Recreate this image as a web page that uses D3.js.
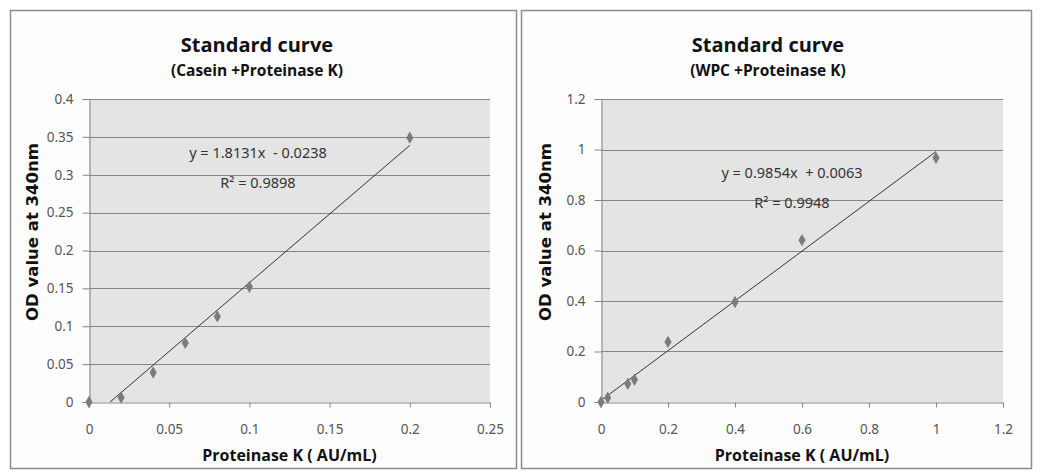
<!DOCTYPE html>
<html><head><meta charset="utf-8">
<script src="https://cdn.jsdelivr.net/npm/d3@7"></script>
<style>
html,body{margin:0;padding:0;background:#fff;}
svg{display:block;}
</style></head>
<body>
<svg id="c" width="1040" height="475"></svg>
<script>
// ---- data ----
const caseinX = [0, 0.02, 0.04, 0.06, 0.08, 0.1, 0.2];
const caseinY = [0, 0.006, 0.039, 0.078, 0.113, 0.152, 0.349];
const caseinSlope = 1.8131, caseinIntercept = -0.0238;
const caseinXTicks = [0, 0.05, 0.1, 0.15, 0.2, 0.25];
const caseinYTicks = [0, 0.05, 0.1, 0.15, 0.2, 0.25, 0.3, 0.35, 0.4];
const caseinTitle = "Standard curve";
const caseinSubtitle = "(Casein +Proteinase K)";
const caseinEq = "y = 1.8131x  - 0.0238";
const caseinR2 = "R² = 0.9898";

const wpcX = [0, 0.02, 0.08, 0.1, 0.2, 0.4, 0.6, 1.0];
const wpcY = [0, 0.017, 0.072, 0.088, 0.238, 0.396, 0.641, 0.967];
const wpcSlope = 0.9854, wpcIntercept = 0.0063;
const wpcXTicks = [0, 0.2, 0.4, 0.6, 0.8, 1, 1.2];
const wpcYTicks = [0, 0.2, 0.4, 0.6, 0.8, 1, 1.2];
const wpcTitle = "Standard curve";
const wpcSubtitle = "(WPC +Proteinase K)";
const wpcEq = "y = 0.9854x  + 0.0063";
const wpcR2 = "R² = 0.9948";

const xTitle = "Proteinase K ( AU/mL)";
const yTitle = "OD value at 340nm";

const svg = d3.select("#c");

function drawChart(o){
  const g = svg.append("g");
  // panel border
  g.append("rect").attr("x", o.bx + 0.5).attr("y", 10.5).attr("width", o.bw).attr("height", 458)
    .attr("fill", "#fdfdfd").attr("stroke", "#8c8c8c").attr("stroke-width", 1.5);
  const x = d3.scaleLinear().domain(o.xDomain).range([o.px0, o.px1]);
  const y = d3.scaleLinear().domain(o.yDomain).range([402, 99]);
  // plot background
  g.append("rect").attr("x", o.px0).attr("y", 99).attr("width", o.px1 - o.px0).attr("height", 303)
    .attr("fill", "#e4e4e4");
  // gridlines
  g.append("g").selectAll("line").data(o.yTicks.filter(d => d > 0)).join("line")
    .attr("x1", o.px0).attr("x2", o.px1).attr("y1", d => Math.round(y(d)) + 0.5).attr("y2", d => Math.round(y(d)) + 0.5)
    .attr("stroke", "#858585").attr("stroke-width", 1);
  const fmt = d => String(+d.toFixed(2));
  // y axis
  const ya = g.append("g").attr("transform", `translate(${o.px0 + 0.5},0)`)
    .call(d3.axisLeft(y).tickValues(o.yTicks).tickFormat(fmt).tickSize(7).tickPadding(9));
  ya.select(".domain").attr("stroke", "#858585");
  ya.selectAll(".tick line").attr("stroke", "#858585");
  ya.selectAll("text").attr("fill", "#555").style("font-family", "'Noto Sans', sans-serif").style("font-size", "13.5px");
  // x axis
  const xa = g.append("g").attr("transform", `translate(0,${402.5})`)
    .call(d3.axisBottom(x).tickValues(o.xTicks).tickFormat(fmt).tickSize(5).tickPadding(17));
  xa.select(".domain").attr("stroke", "#858585");
  xa.selectAll(".tick line").attr("stroke", "#858585");
  xa.selectAll("text").attr("fill", "#555").style("font-family", "'Noto Sans', sans-serif").style("font-size", "13.5px");
  // trendline
  const xs = Math.max(o.xData[0], -o.b / o.m);
  const xe = d3.max(o.xData);
  g.append("line").attr("x1", x(xs)).attr("y1", y(o.m * xs + o.b)).attr("x2", x(xe)).attr("y2", y(o.m * xe + o.b))
    .attr("stroke", "#333").attr("stroke-width", 1);
  // points
  g.append("g").selectAll("path").data(o.xData.map((d, i) => [d, o.yData[i]])).join("path")
    .attr("d", d3.symbol(d3.symbolDiamond, 44))
    .attr("transform", d => `translate(${x(d[0])},${y(d[1])})`)
    .attr("fill", "#7b7b7b");
  // titles
  g.append("text").attr("x", o.tx).attr("y", 52).attr("text-anchor", "middle")
    .style("font-family", "'Open Sans', sans-serif").style("font-weight", "bold").style("font-size", "20px")
    .attr("fill", "#111").text(o.title);
  g.append("text").attr("x", o.tx).attr("y", 76).attr("text-anchor", "middle")
    .style("font-family", "'Open Sans', sans-serif").style("font-weight", "bold").style("font-size", "15.5px")
    .attr("fill", "#111").text(o.subtitle);
  g.append("text").attr("x", o.ex).attr("y", o.ey).attr("text-anchor", "middle")
    .style("font-family", "'Noto Sans', sans-serif").style("font-size", "14.5px").attr("fill", "#333")
    .attr("xml:space", "preserve").style("white-space", "pre").text(o.eq);
  g.append("text").attr("x", o.ex).attr("y", o.ey + 30).attr("text-anchor", "middle")
    .style("font-family", "'Noto Sans', sans-serif").style("font-size", "14.5px").attr("fill", "#333")
    .text(o.r2);
  g.append("text").attr("x", (o.px0 + o.px1) / 2).attr("y", 461).attr("text-anchor", "middle")
    .style("font-family", "'Open Sans', sans-serif").style("font-weight", "bold").style("font-size", "16px")
    .attr("fill", "#111").text(xTitle);
  g.append("text").attr("transform", `translate(${o.ytx},232) rotate(-90)`).attr("text-anchor", "middle")
    .style("font-family", "'DejaVu Sans', sans-serif").style("font-weight", "bold").style("font-size", "16.5px")
    .attr("fill", "#111").text(yTitle);
}

drawChart({bx: 10, bw: 506, px0: 89, px1: 490, xDomain: [0, 0.25], yDomain: [0, 0.4],
  xTicks: caseinXTicks, yTicks: caseinYTicks, xData: caseinX, yData: caseinY, m: caseinSlope, b: caseinIntercept,
  title: caseinTitle, subtitle: caseinSubtitle, eq: caseinEq, r2: caseinR2, tx: 257, ex: 258, ey: 158, ytx: 38});
drawChart({bx: 521, bw: 510, px0: 601, px1: 1003, xDomain: [0, 1.2], yDomain: [0, 1.2],
  xTicks: wpcXTicks, yTicks: wpcYTicks, xData: wpcX, yData: wpcY, m: wpcSlope, b: wpcIntercept,
  title: wpcTitle, subtitle: wpcSubtitle, eq: wpcEq, r2: wpcR2, tx: 768, ex: 792, ey: 178, ytx: 551});
</script>
</body></html>
